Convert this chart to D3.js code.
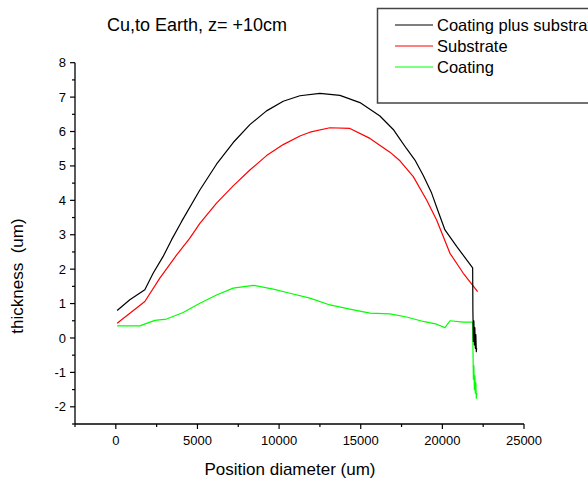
<!DOCTYPE html>
<html><head><meta charset="utf-8">
<script src="https://cdn.jsdelivr.net/npm/d3@7"></script>
<style>body{margin:0;background:#fff}svg{display:block}text{font-family:Arial,"Liberation Sans",sans-serif}</style>
</head><body>
<svg id="c" width="588" height="485"></svg>
<script>
const titleText = "Cu,to Earth, z= +10cm";
const xLabel = "Position diameter (um)";
const yLabel = "thickness  (um)";
const seriesNames = ["Coating plus substrate", "Substrate", "Coating"];
const seriesColors = ["#000000", "#ff0000", "#00ff00"];
const xTicks = [0, 5000, 10000, 15000, 20000, 25000];
const yTicks = [-2, -1, 0, 1, 2, 3, 4, 5, 6, 7, 8];

const totalX = [80, 858, 1777, 2285, 2900, 3411, 4023, 5147, 6168, 7190, 8211, 9232, 10253, 11275, 12500, 13725, 14951, 16176, 16993, 17402, 17810, 18321, 18831, 19342, 19750, 20159, 20874, 21855, 21870, 21900, 21930, 21960, 21990, 22020, 22050, 22080, 22100];
const totalY = [0.80, 1.11, 1.40, 1.88, 2.37, 2.85, 3.38, 4.30, 5.05, 5.68, 6.20, 6.60, 6.88, 7.04, 7.11, 7.05, 6.84, 6.45, 6.06, 5.78, 5.50, 5.17, 4.72, 4.21, 3.67, 3.14, 2.66, 2.04, 0.80, -0.10, 0.50, -0.20, 0.30, -0.30, 0.10, -0.40, -0.30];

const subX = [80, 1777, 2696, 3717, 4534, 5147, 6168, 7190, 8211, 9232, 10253, 11275, 11887, 13113, 14338, 15564, 16789, 17402, 18219, 19036, 19648, 20466, 21283, 22160];
const subY = [0.43, 1.06, 1.74, 2.41, 2.90, 3.33, 3.92, 4.42, 4.88, 5.30, 5.62, 5.87, 5.98, 6.11, 6.09, 5.80, 5.40, 5.15, 4.69, 4.01, 3.43, 2.46, 1.88, 1.35];

const coatX = [80, 1470, 2390, 3105, 4125, 5147, 6168, 7190, 8415, 9640, 10662, 11887, 13113, 14338, 15564, 16789, 17810, 18831, 19648, 20159, 20466, 21283, 21855, 21870, 21900, 21930, 21960, 21990, 22020, 22050, 22080, 22100];
const coatY = [0.35, 0.35, 0.51, 0.55, 0.74, 1.01, 1.25, 1.45, 1.53, 1.42, 1.30, 1.16, 0.96, 0.84, 0.72, 0.70, 0.61, 0.48, 0.40, 0.30, 0.50, 0.46, 0.46, -0.20, -1.20, -0.80, -1.50, -1.10, -1.60, -1.30, -1.75, -1.60];

const svg = d3.select("#c");
const x = d3.scaleLinear().domain([-2500, 25000]).range([75, 524]);
const y = d3.scaleLinear().domain([-2.5, 8]).range([424, 62.7]);

// X axis
const gx = svg.append("g").attr("transform", `translate(0,${y(-2.5)})`);
gx.append("line").attr("x1", x(-2500)).attr("x2", x(25000)).attr("stroke", "#000").attr("stroke-width", 1.3);
d3.range(-2500, 25001, 2500).forEach(v => {
  const major = xTicks.includes(v);
  gx.append("line").attr("x1", x(v)).attr("x2", x(v)).attr("y1", 0).attr("y2", major ? 5 : 3)
    .attr("stroke", "#000").attr("stroke-width", 1.2);
});
xTicks.forEach(v => {
  gx.append("text").attr("x", x(v)).attr("y", 21).attr("text-anchor", "middle")
    .attr("font-size", 13).attr("fill", "#000").text(v);
});

// Y axis
const gy = svg.append("g").attr("transform", `translate(${x(-2500)},0)`);
gy.append("line").attr("y1", y(-2.5)).attr("y2", y(8)).attr("stroke", "#000").attr("stroke-width", 1.3);
d3.range(-2.5, 8.01, 0.5).forEach(v => {
  const major = yTicks.includes(Math.round(v * 10) / 10);
  gy.append("line").attr("x1", 0).attr("x2", major ? -5 : -3).attr("y1", y(v)).attr("y2", y(v))
    .attr("stroke", "#000").attr("stroke-width", 1.2);
});
yTicks.forEach(v => {
  gy.append("text").attr("x", -9).attr("y", y(v)).attr("dy", "0.35em").attr("text-anchor", "end")
    .attr("font-size", 13).attr("fill", "#000").text(v);
});

// Lines
const line = d3.line().x(d => x(d[0])).y(d => y(d[1]));
const data = [
  d3.zip(totalX, totalY),
  d3.zip(subX, subY),
  d3.zip(coatX, coatY)
];
[2, 1, 0].forEach(i => {
  svg.append("path").datum(data[i]).attr("d", line).attr("fill", "none")
    .attr("stroke", seriesColors[i]).attr("stroke-width", 1.2).attr("stroke-linejoin", "round");
});

// Title
svg.append("text").attr("x", 107).attr("y", 31).attr("font-size", 18).attr("fill", "#000").text(titleText);

// Axis labels
svg.append("text").attr("x", 290).attr("y", 475).attr("text-anchor", "middle")
  .attr("font-size", 17).attr("fill", "#000").text(xLabel);
svg.append("text").attr("transform", `translate(23,276) rotate(-90)`).attr("text-anchor", "middle")
  .attr("font-size", 17).attr("fill", "#000").style("white-space", "pre").text(yLabel);

// Legend
const lg = svg.append("g");
lg.append("rect").attr("x", 377.5).attr("y", 8.5).attr("width", 240).attr("height", 94.5)
  .attr("fill", "#fff").attr("stroke", "#444").attr("stroke-width", 1.5);
seriesNames.forEach((n, i) => {
  const cy = 25 + i * 21;
  lg.append("line").attr("x1", 395).attr("x2", 433).attr("y1", cy).attr("y2", cy)
    .attr("stroke", seriesColors[i]).attr("stroke-width", 1.1);
  lg.append("text").attr("x", 437).attr("y", cy).attr("dy", "0.35em").attr("font-size", 16.5)
    .attr("fill", "#000").text(n);
});
</script>
</body></html>
